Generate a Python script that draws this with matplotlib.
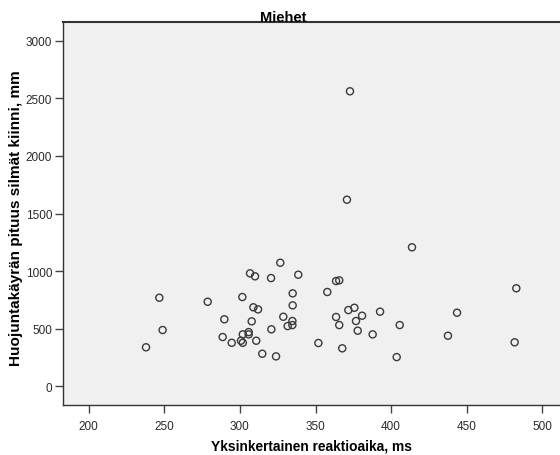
import matplotlib
matplotlib.use("Agg")
import matplotlib.pyplot as plt

plt.rcParams['font.family'] = ['Liberation Sans', 'DejaVu Sans']

reaction_ms = [246.7, 248.9, 237.9, 278.7, 289.7, 288.6, 294.6, 301.6, 306.7, 310.0,
               308.9, 312.0, 307.8, 301.9, 305.8, 305.8, 300.7, 301.9, 310.8, 314.8,
               323.9, 320.8, 326.7, 320.6, 338.6, 334.9, 334.9, 328.7, 334.7, 331.6,
               334.7, 370.8, 372.8, 413.8, 363.6, 365.7, 357.8, 482.8, 371.7, 375.7,
               380.8, 392.7, 363.6, 376.8, 365.7, 377.9, 387.8, 405.7, 443.6, 437.6,
               481.7, 351.9, 367.7, 403.7]
sway_mm = [769, 489, 339, 734, 582, 428, 378, 775, 981, 955,
           686, 668, 564, 451, 471, 451, 396, 378, 396, 283,
           260, 495, 1073, 940, 969, 807, 703, 604, 567, 523,
           532, 1620, 2561, 1207, 914, 920, 819, 851, 662, 682,
           613, 648, 602, 567, 532, 483, 451, 532, 639, 439,
           382, 376, 330, 254]

x_ticks = [200, 250, 300, 350, 400, 450, 500]
y_ticks = [0, 500, 1000, 1500, 2000, 2500, 3000]

title = "Miehet"
x_label = "Yksinkertainen reaktioaika, ms"
y_label = "Huojuntakäyrän pituus silmät kiinni, mm"

W, H = 560, 456
fig = plt.figure(figsize=(W / 100, H / 100), dpi=100)
left, right, top, bottom = 63.3, 560, 23.3, 406
ax = fig.add_axes([left / W, 1 - bottom / H, (right - left) / W, (bottom - top) / H])
ax.set_facecolor('#f0f0f0')

ax.scatter(reaction_ms, sway_mm, s=26, facecolors='none', edgecolors='#3a3a3a',
           linewidths=1.0, zorder=3)

ax.set_xlim(183.2, 511.7)
ax.set_ylim(-162, 3160)
ax.set_xticks(x_ticks)
ax.set_yticks(y_ticks)
ax.tick_params(axis='both', direction='out', length=6, width=1.0, color='#444444',
               labelsize=8.5, labelcolor='#2a2a2a')
ax.tick_params(axis='x', pad=5)
ax.tick_params(axis='y', pad=2)

for s in ['left', 'bottom', 'top']:
    ax.spines[s].set_color('#333333')
    ax.spines[s].set_linewidth(1.0)
ax.spines['top'].set_linewidth(1.5)
ax.spines['right'].set_visible(False)

fig.text(283 / W, 1 - 21.8 / H, title, ha='center', va='baseline', fontsize=10.5,
         fontweight='bold', zorder=10)
fig.text((left + right) / 2 / W, 1 - 447 / H, x_label, ha='center', va='center',
         fontsize=9.9, fontweight='bold')
fig.text(16 / W, 1 - 218 / H, y_label, ha='center', va='center', rotation=90,
         fontsize=11, fontweight='bold')

fig.savefig('out.png', dpi=100)
